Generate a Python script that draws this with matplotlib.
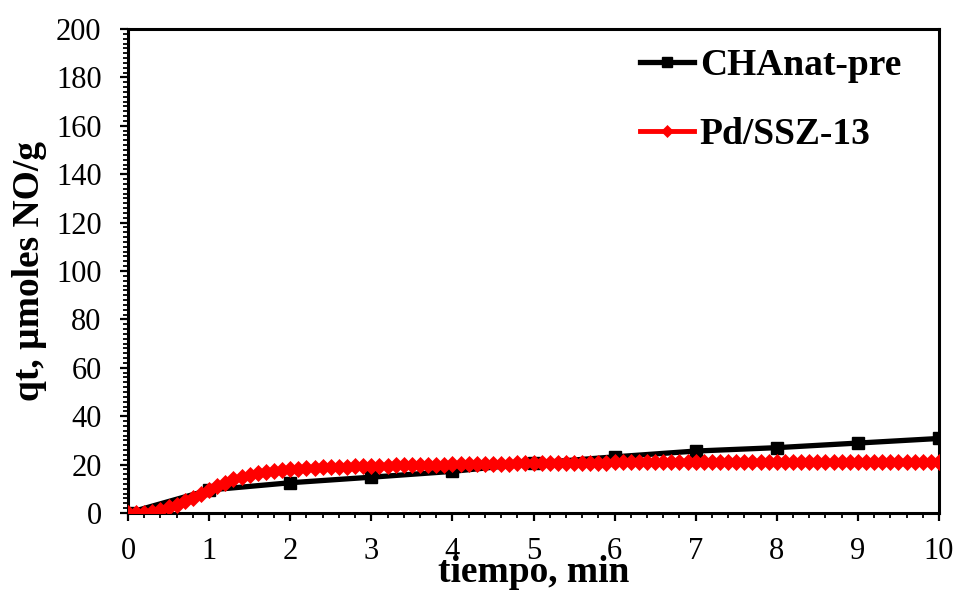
# libraries
import numpy as np
import matplotlib
matplotlib.use('Agg')
import matplotlib.pyplot as plt
from matplotlib.ticker import MultipleLocator

plt.rcParams['font.family'] = ['Liberation Serif', 'DejaVu Serif']

# data
t_cha = [0, 1, 2, 3, 4, 5, 6, 7, 8, 9, 10]
q_cha = [0.0, 9.5, 12.5, 14.8, 17.2, 20.6, 23.2, 25.6, 27.0, 28.9, 30.8]

t_pd = [round(0.1 * i, 1) for i in range(101)]
q_pd = [0.0, 0.0, 0.2, 0.6, 1.3, 2.3, 3.5, 4.8, 6.3, 7.9,
        9.5, 11.1, 12.6, 13.9, 15.0, 15.9, 16.6, 17.1, 17.5, 17.8,
        18.1, 18.3, 18.5, 18.7, 18.9, 19.0, 19.1, 19.2, 19.3, 19.4,
        19.5, 19.6, 19.6, 19.7, 19.8, 19.8, 19.9, 19.9, 20.0, 20.0,
        20.1, 20.1, 20.2, 20.2, 20.3, 20.3, 20.4, 20.4, 20.5, 20.5,
        20.6, 20.6, 20.6, 20.7, 20.7, 20.7, 20.8, 20.8, 20.8, 20.8,
        20.9, 20.9, 20.9, 20.9, 21.0, 21.0, 21.0, 21.0, 21.0, 21.1,
        21.1, 21.1, 21.1, 21.1, 21.1, 21.1, 21.1, 21.1, 21.1, 21.1,
        21.1, 21.1, 21.1, 21.2, 21.2, 21.2, 21.2, 21.2, 21.2, 21.2,
        21.2, 21.2, 21.2, 21.2, 21.2, 21.2, 21.2, 21.2, 21.2, 21.2,
        21.2]

labels = ['CHAnat-pre', 'Pd/SSZ-13']

fig = plt.figure(figsize=(9.59, 5.91), dpi=100)
ax = fig.add_axes([128 / 959, 1 - 513 / 591, 811 / 959, 484 / 591])

ax.plot(t_cha, q_cha, color='black', lw=3.8, marker='s', ms=9,
        mec='black', mew=1, label=labels[0], zorder=3)
ax.plot(t_pd, q_pd, color='red', lw=3.5, marker='D', ms=8.5,
        mec='red', mew=0.5, label=labels[1], zorder=4)

ax.set_xlim(0, 10)
ax.set_ylim(0, 200)
ax.xaxis.set_major_locator(MultipleLocator(1))
ax.xaxis.set_minor_locator(MultipleLocator(0.2))
ax.yaxis.set_major_locator(MultipleLocator(20))
ax.yaxis.set_minor_locator(MultipleLocator(2))

for s in ax.spines.values():
    s.set_linewidth(2.2)
ax.tick_params(which='major', direction='out', length=6, width=1.6,
               labelsize=22, colors='black')
ax.tick_params(which='minor', direction='out', length=3.5, width=1.3)
ax.tick_params(axis='y', which='major', pad=13)
ax.tick_params(axis='x', which='major', pad=11)

ax.set_xlabel('tiempo, min', fontsize=27, fontweight='bold')
ax.set_ylabel('qt, µmoles NO/g', fontsize=27, fontweight='bold')
ax.xaxis.set_label_coords(0.5, -0.122)
ax.xaxis.label.set_va('center')
ax.yaxis.set_label_coords(-0.121, 0.5)
ax.yaxis.label.set_va('center')

leg = ax.legend(loc='upper left', bbox_to_anchor=(0.631, 0.96),
                frameon=False, prop={'size': 27, 'weight': 'bold'},
                handlelength=1.45, handletextpad=0.15, labelspacing=0.9,
                borderpad=0, borderaxespad=0, markerscale=0.75)

plt.savefig('out.png', dpi=100)
